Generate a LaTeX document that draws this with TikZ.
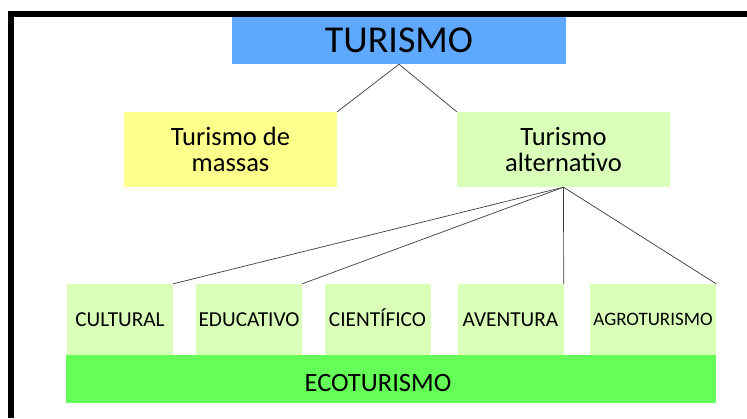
\documentclass[tikz,border=0pt]{standalone}
\usepackage{fontspec}
\setmainfont{Carlito}
\usepackage{xcolor}
\definecolor{turismoblue}{RGB}{95,168,255}
\definecolor{massasyellow}{RGB}{255,255,140}
\definecolor{altgreen}{RGB}{217,255,185}
\definecolor{ecogreen}{RGB}{100,255,87}
\definecolor{linegray}{RGB}{60,60,60}

\begin{document}
\begin{tikzpicture}[x=1pt, y=-1pt,
  topbox/.style={inner sep=0pt, align=center, minimum width=213pt, minimum height=75pt, font=\fontsize{26.5}{26}\selectfont},
  kindbox/.style={fill=altgreen, inner sep=0pt, minimum width=106pt, minimum height=71pt, text height=13.7pt, text depth=0pt, font=\fontsize{21.3}{21.3}\selectfont},
  link/.style={draw=linegray, line width=0.7pt}]
\useasboundingbox[fill=white] (0,0) rectangle (747,418);

\node[fill=turismoblue, inner sep=0pt, minimum width=334pt, minimum height=47pt, font=\fontsize{38}{38}\selectfont] (turismo) at (399,40.5) {TURISMO};
\node[topbox, fill=massasyellow] (massas) at (230.5,149.5) {Turismo de\\massas};
\node[topbox, fill=altgreen] (alternativo) at (563.5,149.5) {Turismo\\alternativo};

\node[kindbox] (cultural) at (120,319.5) {CULTURAL};
\node[kindbox] (educativo) at (249,319.5) {EDUCATIVO};
\node[kindbox] (cientifico) at (377.5,319.5) {CIENTÍFICO};
\node[kindbox] (aventura) at (510.5,319.5) {AVENTURA};
\node[kindbox, minimum width=126pt, text height=12.2pt, font=\fontsize{19}{19}\selectfont] (agroturismo) at (653,319.5) {AGROTURISMO};
\node[fill=ecogreen, inner sep=0pt, minimum width=650pt, minimum height=48pt, text height=25pt, font=\fontsize{26.5}{26.5}\selectfont] (ecoturismo) at (391,379) {\hspace*{-26pt}ECOTURISMO};

\draw[link] (turismo.south) -- (massas.north east);
\draw[link] (turismo.south) -- (alternativo.north west);
\draw[link] (alternativo.south) -- (cultural.north east);
\draw[link] (alternativo.south) -- (educativo.north east);
\draw[link] (alternativo.south) -- (aventura.north east);
\draw[link] (alternativo.south) -- (agroturismo.north east);

\draw[line width=6pt] (747,14) -- (10.5,14) -- (10.5,418);
\end{tikzpicture}
\end{document}
